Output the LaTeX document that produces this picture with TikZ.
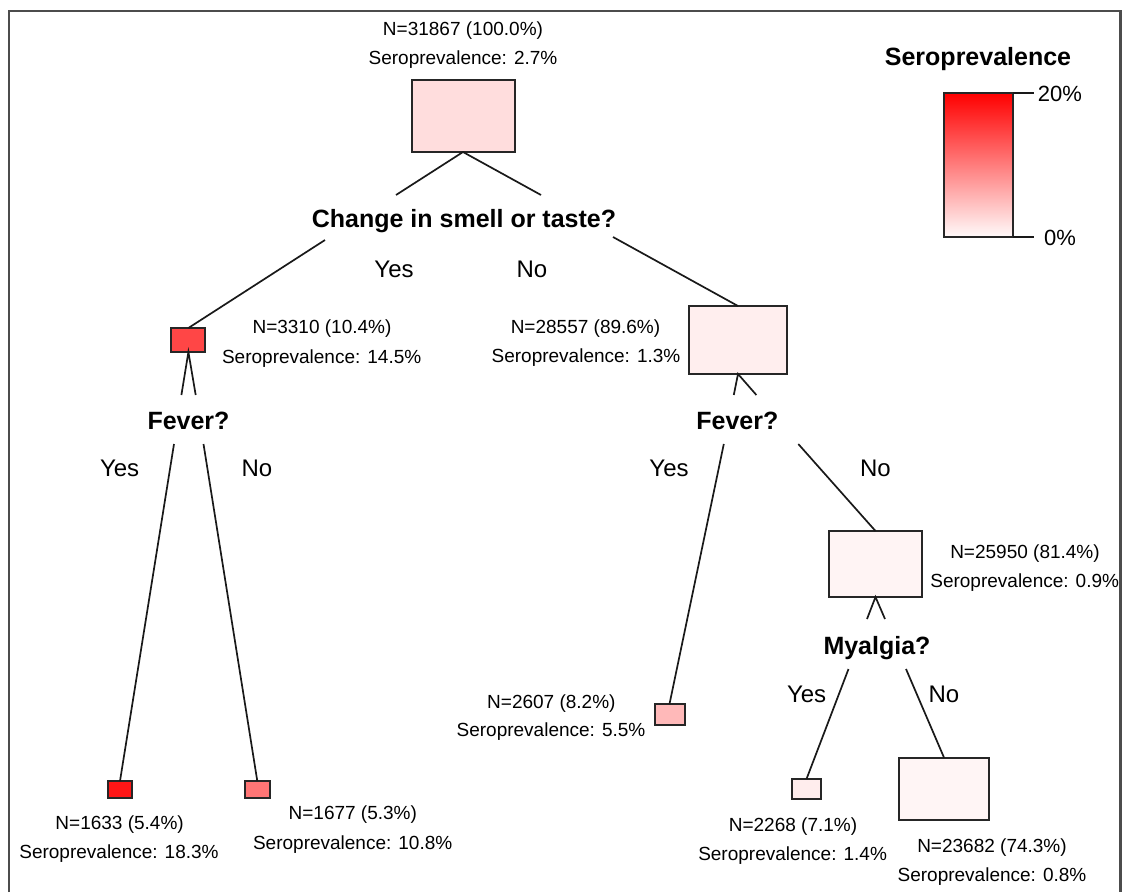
\documentclass[tikz,border=0pt]{standalone}
\usepackage{fontspec}
\setmainfont{Liberation Sans}
\begin{document}
\begin{tikzpicture}[x=1pt,y=-1pt,
  leaf/.style={draw=black!85,line width=2pt,inner sep=0pt,outer sep=0pt},
  info/.style={font=\fontsize{19}{22}\selectfont,text height=13.6pt,text depth=0pt,inner sep=0pt},
  question/.style={font=\bfseries\fontsize{25}{30}\selectfont,text height=17.9pt,text depth=0pt,inner sep=0pt},
  answer/.style={font=\fontsize{24}{28}\selectfont,text height=17.2pt,text depth=0pt,inner sep=0pt},
  ticklabel/.style={font=\fontsize{22}{26}\selectfont,text height=15.8pt,text depth=0pt,inner sep=0pt},
  branch/.style={line width=1.7pt,black!90}]
  \useasboundingbox (0,0) rectangle (1122,892);
  \draw[line width=2.2pt,black!70] (9,892) -- (9,11) -- (1120.5,11) -- (1120.5,892);

  % boxes
  \node[leaf,fill=red!13.5,minimum width=103pt,minimum height=72pt] (b1) at (463,116) {};
  \node[leaf,fill=red!72.5,minimum width=34pt,minimum height=24pt] (b2) at (188.4,340) {};
  \node[leaf,fill=red!6.5,minimum width=98pt,minimum height=68pt] (b3) at (738,340) {};
  \node[leaf,fill=red!91.5,minimum width=24pt,minimum height=17pt] (b4) at (120,789.5) {};
  \node[leaf,fill=red!54,minimum width=24.5pt,minimum height=17pt] (b5) at (257.3,789.5) {};
  \node[leaf,fill=red!27.5,minimum width=30pt,minimum height=21pt] (b6) at (669.5,714.5) {};
  \node[leaf,fill=red!4.5,minimum width=93pt,minimum height=66pt] (b7) at (875.5,564) {};
  \node[leaf,fill=red!7,minimum width=29pt,minimum height=20pt] (b8) at (806.5,789) {};
  \node[leaf,fill=red!4,minimum width=89.6pt,minimum height=62pt] (b9) at (944.2,789) {};

  % box texts
  \node[info] (b1n) at (463,29) {N=31867 (100.0\%)};
  \node[info] (b1s) at (463,58) {Seroprevalence: 2.7\%};
  \node[info] (b2n) at (322,327) {N=3310 (10.4\%)};
  \node[info] (b2s) at (321.7,357) {Seroprevalence: 14.5\%};
  \node[info] (b3n) at (585.5,327) {N=28557 (89.6\%)};
  \node[info] (b3s) at (586,356) {Seroprevalence: 1.3\%};
  \node[info] (b4n) at (119.6,823) {N=1633 (5.4\%)};
  \node[info] (b4s) at (119,852) {Seroprevalence: 18.3\%};
  \node[info] (b5n) at (352.8,813) {N=1677 (5.3\%)};
  \node[info] (b5s) at (352.7,843) {Seroprevalence: 10.8\%};
  \node[info] (b6n) at (551.4,702) {N=2607 (8.2\%)};
  \node[info] (b6s) at (551,730) {Seroprevalence: 5.5\%};
  \node[info] (b7n) at (1025,552) {N=25950 (81.4\%)};
  \node[info] (b7s) at (1024.7,581) {Seroprevalence: 0.9\%};
  \node[info] (b8n) at (793,825) {N=2268 (7.1\%)};
  \node[info] (b8s) at (792.6,854) {Seroprevalence: 1.4\%};
  \node[info] (b9n) at (992,846) {N=23682 (74.3\%)};
  \node[info] (b9s) at (992,875) {Seroprevalence: 0.8\%};

  % splits
  \node[question] (q1) at (464,219) {Change in smell or taste?};
  \node[question] (q2) at (188.5,421) {Fever?};
  \node[question] (q3) at (737.4,421) {Fever?};
  \node[question] (q4) at (877,646) {Myalgia?};

  \node[answer] (q1y) at (394,269) {Yes};
  \node[answer] (q1n) at (532,269) {No};
  \node[answer] (q2y) at (119.6,468) {Yes};
  \node[answer] (q2n) at (257,468) {No};
  \node[answer] (q3y) at (669,468) {Yes};
  \node[answer] (q3n) at (875.4,468) {No};
  \node[answer] (q4y) at (806.6,694) {Yes};
  \node[answer] (q4n) at (944,694) {No};

  % branch ends near the split texts
  \coordinate (q1a) at (396,195);
  \coordinate (q1b) at (541,195);
  \coordinate (q1c) at (325,240);
  \coordinate (q1d) at (613,237);
  \coordinate (q2a) at (181.4,395);
  \coordinate (q2b) at (195.7,395);
  \coordinate (q2c) at (174,444);
  \coordinate (q2d) at (203.5,444);
  \coordinate (q3a) at (733.8,395);
  \coordinate (q3b) at (756.4,395);
  \coordinate (q3c) at (723.8,444);
  \coordinate (q3d) at (798.3,444);
  \coordinate (q4a) at (867,619);
  \coordinate (q4b) at (885,619);
  \coordinate (q4c) at (848.5,669);
  \coordinate (q4d) at (906,669);

  \draw[branch] (q1a) -- (b1.south) -- (q1b);
  \draw[branch] (q1c) -- (b2.north);
  \draw[branch] (q1d) -- (b3.north);
  \draw[branch] (q2a) -- (b2.south) -- (q2b);
  \draw[branch] (q2c) -- (b4.north);
  \draw[branch] (q2d) -- (b5.north);
  \draw[branch] (q3a) -- (b3.south) -- (q3b);
  \draw[branch] (q3c) -- (b6.north);
  \draw[branch] (q3d) -- (b7.north);
  \draw[branch] (q4a) -- (b7.south) -- (q4b);
  \draw[branch] (q4c) -- (b8.north);
  \draw[branch] (q4d) -- (b9.north);

  % legend
  \node[question] (lgd) at (978,56.5) {Seroprevalence};
  \node[leaf,top color=red,bottom color=red!2,minimum width=69pt,minimum height=144pt] (bar) at (978.5,165) {};
  \coordinate (t20) at (1034,93);
  \coordinate (t0) at (1034,237);
  \draw[branch] (bar.north east) -- (t20);
  \draw[branch] (bar.south east) -- (t0);
  \node[ticklabel] (l20) at (1060,94) {20\%};
  \node[ticklabel] (l0) at (1060,238) {0\%};
\end{tikzpicture}
\end{document}
